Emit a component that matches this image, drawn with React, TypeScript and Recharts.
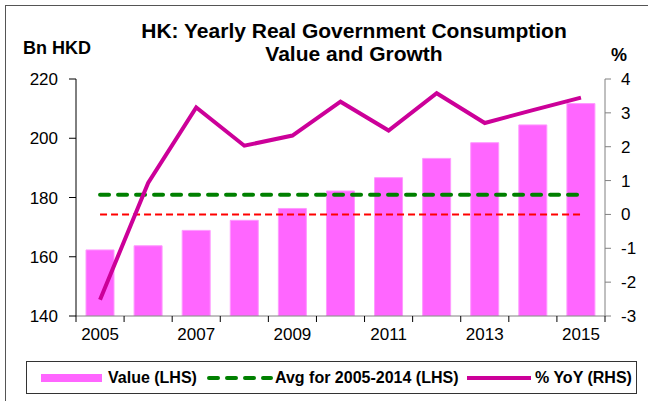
import React from 'react';
import { ComposedChart, Bar, Line, XAxis, YAxis } from 'recharts';

const years = ['2005', '2006', '2007', '2008', '2009', '2010', '2011', '2012', '2013', '2014', '2015'];
const valueLhs = [162.3, 163.7, 168.9, 172.3, 176.3, 182.2, 186.7, 193.2, 198.5, 204.5, 211.7];
const avgLhs = [180.9, 180.9, 180.9, 180.9, 180.9, 180.9, 180.9, 180.9, 180.9, 180.9, 180.9];
const yoyRhs = [-2.52, 0.93, 3.16, 2.03, 2.33, 3.33, 2.48, 3.58, 2.7, 3.08, 3.45];
const zeroRhs = [0, 0, 0, 0, 0, 0, 0, 0, 0, 0, 0];
const leftTicks = [140, 160, 180, 200, 220];
const rightTicks = [-3, -2, -1, 0, 1, 2, 3, 4];

const W = 648;
const H = 401;
const LEFT_W = 76;
const RIGHT_W = 43;
const HALF_BAND = (W - LEFT_W - RIGHT_W) / years.length / 2;
const FONT = 'Arial, "Liberation Sans", sans-serif';

const data = years.map((year, i) => ({
  year,
  value: valueLhs[i],
  avg: avgLhs[i],
  yoy: yoyRhs[i],
  zero: zeroRhs[i],
}));

const XTick = (props: any) => {
  const { x, y, payload, index } = props;
  return (
    <g>
      <line x1={x - HALF_BAND} x2={x - HALF_BAND} y1={y} y2={y + 6} stroke="#000" strokeWidth={1} />
      {index === years.length - 1 && (
        <line x1={x + HALF_BAND} x2={x + HALF_BAND} y1={y} y2={y + 6} stroke="#000" strokeWidth={1} />
      )}
      {index % 2 === 0 && (
        <text x={x} y={y + 12} dy="0.71em" textAnchor="middle" fontSize={17} fontFamily={FONT} fill="#000">
          {payload.value}
        </text>
      )}
    </g>
  );
};

const tickStyle = { fontSize: 17, fontFamily: FONT, fill: '#000' };

const legendText = { position: 'absolute' as const, top: 8, lineHeight: 1, whiteSpace: 'nowrap' as const };

const LegendBox = () => (
  <div
    style={{
      position: 'absolute',
      left: 26,
      top: 361,
      width: 611,
      height: 33,
      border: '1px solid #333',
      boxSizing: 'border-box',
      fontFamily: FONT,
      fontWeight: 'bold',
      fontSize: 16,
      color: '#000',
    }}
  >
    <svg width={611} height={33} style={{ position: 'absolute', left: -1, top: -1 }}>
      <rect x={15} y={13} width={61} height={8} fill="#FF66FF" />
      <line x1={183} x2={245} y1={17} y2={17} stroke="#008000" strokeWidth={4} strokeDasharray="9 9" strokeLinecap="round" />
      <line x1={441} x2={505} y1={17} y2={17} stroke="#CC0099" strokeWidth={4} />
    </svg>
    <span style={{ ...legendText, left: 81 }}>Value (LHS)</span>
    <span style={{ ...legendText, left: 248 }}>Avg for 2005-2014 (LHS)</span>
    <span style={{ ...legendText, left: 508 }}>% YoY (RHS)</span>
  </div>
);

export default function App() {
  return (
    <div
      style={{
        position: 'absolute',
        left: 0,
        top: 0,
        width: W,
        height: H,
        background: '#fff',
        overflow: 'hidden',
        fontFamily: FONT,
      }}
    >
      <div
        style={{
          position: 'absolute',
          left: 5,
          top: 5,
          width: 700,
          height: 500,
          borderLeft: '1px solid #555',
          borderTop: '1px solid #555',
        }}
      />
      <div
        style={{
          position: 'absolute',
          left: 104,
          top: 19,
          width: 500,
          textAlign: 'center',
          fontWeight: 'bold',
          fontSize: 21,
          lineHeight: '23px',
          color: '#000',
        }}
      >
        HK: Yearly Real Government Consumption
        <br />
        Value and Growth
      </div>
      <div style={{ position: 'absolute', left: 23, top: 39, fontWeight: 'bold', fontSize: 18, lineHeight: 1 }}>
        Bn HKD
      </div>
      <div style={{ position: 'absolute', left: 611, top: 46, fontWeight: 'bold', fontSize: 18, lineHeight: 1 }}>
        %
      </div>

      <div style={{ position: 'absolute', left: 0, top: 0 }}>
        <ComposedChart
          width={W}
          height={H}
          data={data}
          margin={{ top: 79, right: 0, bottom: 55, left: 0 }}
          barCategoryGap="0%"
        >
          <XAxis
            dataKey="year"
            xAxisId="x"
            height={30}
            tickSize={0}
            tickMargin={0}
            tickLine={false}
            axisLine={{ stroke: '#808080' }}
            tick={<XTick />}
            interval={0}
          />
          <YAxis
            yAxisId="left"
            orientation="left"
            width={LEFT_W}
            domain={[140, 220]}
            ticks={leftTicks}
            allowDataOverflow
            tickSize={7}
            tickMargin={11}
            tick={tickStyle}
            axisLine={{ stroke: '#000' }}
            tickLine={{ stroke: '#000' }}
          />
          <YAxis
            yAxisId="right"
            orientation="right"
            width={RIGHT_W}
            domain={[-3, 4]}
            ticks={rightTicks}
            tickSize={6}
            tickMargin={10}
            tick={tickStyle}
            axisLine={{ stroke: '#808080' }}
            tickLine={{ stroke: '#808080' }}
          />
          <Bar
            dataKey="value"
            xAxisId="x"
            yAxisId="left"
            barSize={28}
            fill="#FF66FF"
            stroke="#FF99FF"
            strokeWidth={1}
            isAnimationActive={false}
          />
          <Line
            dataKey="zero"
            xAxisId="x"
            yAxisId="right"
            stroke="#FF0000"
            strokeWidth={2}
            strokeDasharray="7 4"
            dot={false}
            activeDot={false}
            isAnimationActive={false}
          />
          <Line
            dataKey="avg"
            xAxisId="x"
            yAxisId="left"
            stroke="#008000"
            strokeWidth={4}
            strokeDasharray="9 9"
            strokeLinecap="round"
            dot={false}
            activeDot={false}
            isAnimationActive={false}
          />
          <Line
            dataKey="yoy"
            xAxisId="x"
            yAxisId="right"
            stroke="#CC0099"
            strokeWidth={4}
            dot={false}
            activeDot={false}
            isAnimationActive={false}
          />
        </ComposedChart>
      </div>
      <LegendBox />
    </div>
  );
}
